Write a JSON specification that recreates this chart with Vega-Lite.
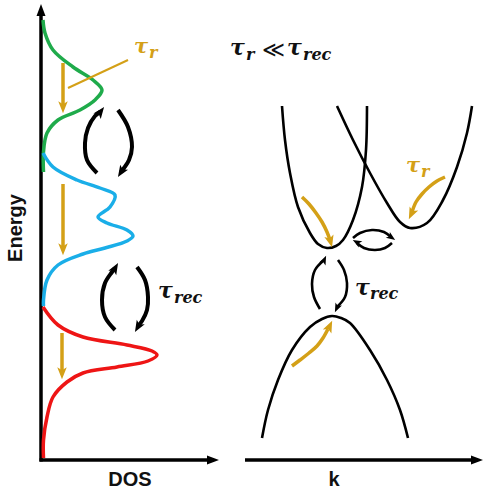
{
  "$schema": "https://vega.github.io/schema/vega-lite/v6.json",
  "width": 484,
  "height": 493,
  "padding": 0,
  "autosize": {"type": "none"},
  "background": "white",
  "config": {"view": {"stroke": null}},
  "datasets": {
    "curves": [
      {"curve": "DOS band 1", "kind": "dos", "i": 0, "x": 43, "y": 20},
      {"curve": "DOS band 1", "kind": "dos", "i": 1, "x": 45, "y": 33},
      {"curve": "DOS band 1", "kind": "dos", "i": 2, "x": 53, "y": 50},
      {"curve": "DOS band 1", "kind": "dos", "i": 3, "x": 73, "y": 67},
      {"curve": "DOS band 1", "kind": "dos", "i": 4, "x": 93, "y": 80},
      {"curve": "DOS band 1", "kind": "dos", "i": 5, "x": 102, "y": 90},
      {"curve": "DOS band 1", "kind": "dos", "i": 6, "x": 95, "y": 100},
      {"curve": "DOS band 1", "kind": "dos", "i": 7, "x": 80, "y": 110},
      {"curve": "DOS band 1", "kind": "dos", "i": 8, "x": 58, "y": 120},
      {"curve": "DOS band 1", "kind": "dos", "i": 9, "x": 47, "y": 133},
      {"curve": "DOS band 1", "kind": "dos", "i": 10, "x": 43.5, "y": 152},
      {"curve": "DOS band 1", "kind": "dos", "i": 11, "x": 43.5, "y": 172},
      {"curve": "DOS band 2", "kind": "dos", "i": 0, "x": 43, "y": 153},
      {"curve": "DOS band 2", "kind": "dos", "i": 1, "x": 53, "y": 167},
      {"curve": "DOS band 2", "kind": "dos", "i": 2, "x": 77, "y": 180},
      {"curve": "DOS band 2", "kind": "dos", "i": 3, "x": 100, "y": 188},
      {"curve": "DOS band 2", "kind": "dos", "i": 4, "x": 115, "y": 195},
      {"curve": "DOS band 2", "kind": "dos", "i": 5, "x": 110, "y": 207},
      {"curve": "DOS band 2", "kind": "dos", "i": 6, "x": 98, "y": 217},
      {"curve": "DOS band 2", "kind": "dos", "i": 7, "x": 107, "y": 223},
      {"curve": "DOS band 2", "kind": "dos", "i": 8, "x": 127, "y": 230},
      {"curve": "DOS band 2", "kind": "dos", "i": 9, "x": 133, "y": 236},
      {"curve": "DOS band 2", "kind": "dos", "i": 10, "x": 127, "y": 241},
      {"curve": "DOS band 2", "kind": "dos", "i": 11, "x": 105, "y": 248},
      {"curve": "DOS band 2", "kind": "dos", "i": 12, "x": 83, "y": 254},
      {"curve": "DOS band 2", "kind": "dos", "i": 13, "x": 58, "y": 265},
      {"curve": "DOS band 2", "kind": "dos", "i": 14, "x": 47, "y": 280},
      {"curve": "DOS band 2", "kind": "dos", "i": 15, "x": 43.5, "y": 300},
      {"curve": "DOS band 2", "kind": "dos", "i": 16, "x": 43.5, "y": 306},
      {"curve": "DOS band 3", "kind": "dos", "i": 0, "x": 43, "y": 307},
      {"curve": "DOS band 3", "kind": "dos", "i": 1, "x": 58, "y": 325},
      {"curve": "DOS band 3", "kind": "dos", "i": 2, "x": 83, "y": 337},
      {"curve": "DOS band 3", "kind": "dos", "i": 3, "x": 127, "y": 345},
      {"curve": "DOS band 3", "kind": "dos", "i": 4, "x": 152, "y": 351},
      {"curve": "DOS band 3", "kind": "dos", "i": 5, "x": 157, "y": 355},
      {"curve": "DOS band 3", "kind": "dos", "i": 6, "x": 148, "y": 361},
      {"curve": "DOS band 3", "kind": "dos", "i": 7, "x": 117, "y": 367},
      {"curve": "DOS band 3", "kind": "dos", "i": 8, "x": 83, "y": 373},
      {"curve": "DOS band 3", "kind": "dos", "i": 9, "x": 67, "y": 382},
      {"curve": "DOS band 3", "kind": "dos", "i": 10, "x": 53, "y": 397},
      {"curve": "DOS band 3", "kind": "dos", "i": 11, "x": 47, "y": 417},
      {"curve": "DOS band 3", "kind": "dos", "i": 12, "x": 43.5, "y": 440},
      {"curve": "DOS band 3", "kind": "dos", "i": 13, "x": 43.5, "y": 458},
      {"curve": "CB valley 1", "kind": "band", "i": 0, "x": 282, "y": 106},
      {"curve": "CB valley 1", "kind": "band", "i": 1, "x": 285, "y": 140},
      {"curve": "CB valley 1", "kind": "band", "i": 2, "x": 290, "y": 173},
      {"curve": "CB valley 1", "kind": "band", "i": 3, "x": 298, "y": 207},
      {"curve": "CB valley 1", "kind": "band", "i": 4, "x": 310, "y": 233},
      {"curve": "CB valley 1", "kind": "band", "i": 5, "x": 318, "y": 244},
      {"curve": "CB valley 1", "kind": "band", "i": 6, "x": 327, "y": 248},
      {"curve": "CB valley 1", "kind": "band", "i": 7, "x": 336, "y": 246},
      {"curve": "CB valley 1", "kind": "band", "i": 8, "x": 343, "y": 240},
      {"curve": "CB valley 1", "kind": "band", "i": 9, "x": 353, "y": 220},
      {"curve": "CB valley 1", "kind": "band", "i": 10, "x": 362, "y": 187},
      {"curve": "CB valley 1", "kind": "band", "i": 11, "x": 366, "y": 150},
      {"curve": "CB valley 1", "kind": "band", "i": 12, "x": 367, "y": 106},
      {"curve": "CB valley 2", "kind": "band", "i": 0, "x": 337, "y": 106},
      {"curve": "CB valley 2", "kind": "band", "i": 1, "x": 353, "y": 140},
      {"curve": "CB valley 2", "kind": "band", "i": 2, "x": 370, "y": 173},
      {"curve": "CB valley 2", "kind": "band", "i": 3, "x": 387, "y": 203},
      {"curve": "CB valley 2", "kind": "band", "i": 4, "x": 400, "y": 222},
      {"curve": "CB valley 2", "kind": "band", "i": 5, "x": 410, "y": 228},
      {"curve": "CB valley 2", "kind": "band", "i": 6, "x": 427, "y": 223},
      {"curve": "CB valley 2", "kind": "band", "i": 7, "x": 443, "y": 200},
      {"curve": "CB valley 2", "kind": "band", "i": 8, "x": 457, "y": 167},
      {"curve": "CB valley 2", "kind": "band", "i": 9, "x": 467, "y": 133},
      {"curve": "CB valley 2", "kind": "band", "i": 10, "x": 472, "y": 106},
      {"curve": "VB", "kind": "band", "i": 0, "x": 262, "y": 438},
      {"curve": "VB", "kind": "band", "i": 1, "x": 268, "y": 410},
      {"curve": "VB", "kind": "band", "i": 2, "x": 278, "y": 380},
      {"curve": "VB", "kind": "band", "i": 3, "x": 292, "y": 350},
      {"curve": "VB", "kind": "band", "i": 4, "x": 310, "y": 327},
      {"curve": "VB", "kind": "band", "i": 5, "x": 322, "y": 319},
      {"curve": "VB", "kind": "band", "i": 6, "x": 332, "y": 316},
      {"curve": "VB", "kind": "band", "i": 7, "x": 341, "y": 318},
      {"curve": "VB", "kind": "band", "i": 8, "x": 350, "y": 323},
      {"curve": "VB", "kind": "band", "i": 9, "x": 370, "y": 350},
      {"curve": "VB", "kind": "band", "i": 10, "x": 387, "y": 380},
      {"curve": "VB", "kind": "band", "i": 11, "x": 400, "y": 410},
      {"curve": "VB", "kind": "band", "i": 12, "x": 408, "y": 438},
      {"curve": "relax L1", "kind": "relax", "i": 0, "x": 63, "y": 63},
      {"curve": "relax L1", "kind": "relax", "i": 1, "x": 63, "y": 108},
      {"curve": "relax L2", "kind": "relax", "i": 0, "x": 63, "y": 184},
      {"curve": "relax L2", "kind": "relax", "i": 1, "x": 63, "y": 250},
      {"curve": "relax L3", "kind": "relax", "i": 0, "x": 62, "y": 333},
      {"curve": "relax L3", "kind": "relax", "i": 1, "x": 62, "y": 374},
      {"curve": "relax R1", "kind": "relax", "i": 0, "x": 302, "y": 197},
      {"curve": "relax R1", "kind": "relax", "i": 1, "x": 309, "y": 204},
      {"curve": "relax R1", "kind": "relax", "i": 2, "x": 316, "y": 213},
      {"curve": "relax R1", "kind": "relax", "i": 3, "x": 322, "y": 222},
      {"curve": "relax R1", "kind": "relax", "i": 4, "x": 327, "y": 232},
      {"curve": "relax R1", "kind": "relax", "i": 5, "x": 330, "y": 240},
      {"curve": "relax R2", "kind": "relax", "i": 0, "x": 445, "y": 177},
      {"curve": "relax R2", "kind": "relax", "i": 1, "x": 437, "y": 181},
      {"curve": "relax R2", "kind": "relax", "i": 2, "x": 429, "y": 187},
      {"curve": "relax R2", "kind": "relax", "i": 3, "x": 422, "y": 194},
      {"curve": "relax R2", "kind": "relax", "i": 4, "x": 416, "y": 202},
      {"curve": "relax R2", "kind": "relax", "i": 5, "x": 412, "y": 212},
      {"curve": "relax R3", "kind": "relax", "i": 0, "x": 292, "y": 366},
      {"curve": "relax R3", "kind": "relax", "i": 1, "x": 300, "y": 360},
      {"curve": "relax R3", "kind": "relax", "i": 2, "x": 309, "y": 353},
      {"curve": "relax R3", "kind": "relax", "i": 3, "x": 317, "y": 346},
      {"curve": "relax R3", "kind": "relax", "i": 4, "x": 323, "y": 338},
      {"curve": "relax R3", "kind": "relax", "i": 5, "x": 328, "y": 329},
      {"curve": "leader", "kind": "leader", "i": 0, "x": 68, "y": 88},
      {"curve": "leader", "kind": "leader", "i": 1, "x": 128, "y": 60},
      {"curve": "rec L1", "kind": "recomb", "i": 0, "x": 97, "y": 173},
      {"curve": "rec L1", "kind": "recomb", "i": 1, "x": 87, "y": 160},
      {"curve": "rec L1", "kind": "recomb", "i": 2, "x": 85, "y": 143},
      {"curve": "rec L1", "kind": "recomb", "i": 3, "x": 88, "y": 128},
      {"curve": "rec L1", "kind": "recomb", "i": 4, "x": 95, "y": 116},
      {"curve": "rec L1", "kind": "recomb", "i": 5, "x": 100, "y": 112},
      {"curve": "rec L2", "kind": "recomb", "i": 0, "x": 118, "y": 110},
      {"curve": "rec L2", "kind": "recomb", "i": 1, "x": 128, "y": 127},
      {"curve": "rec L2", "kind": "recomb", "i": 2, "x": 132, "y": 147},
      {"curve": "rec L2", "kind": "recomb", "i": 3, "x": 129, "y": 160},
      {"curve": "rec L2", "kind": "recomb", "i": 4, "x": 124, "y": 168},
      {"curve": "rec L2", "kind": "recomb", "i": 5, "x": 121, "y": 172},
      {"curve": "rec L3", "kind": "recomb", "i": 0, "x": 115, "y": 330},
      {"curve": "rec L3", "kind": "recomb", "i": 1, "x": 105, "y": 317},
      {"curve": "rec L3", "kind": "recomb", "i": 2, "x": 102, "y": 300},
      {"curve": "rec L3", "kind": "recomb", "i": 3, "x": 105, "y": 283},
      {"curve": "rec L3", "kind": "recomb", "i": 4, "x": 112, "y": 272},
      {"curve": "rec L3", "kind": "recomb", "i": 5, "x": 115, "y": 268},
      {"curve": "rec L4", "kind": "recomb", "i": 0, "x": 137, "y": 267},
      {"curve": "rec L4", "kind": "recomb", "i": 1, "x": 145, "y": 280},
      {"curve": "rec L4", "kind": "recomb", "i": 2, "x": 148, "y": 297},
      {"curve": "rec L4", "kind": "recomb", "i": 3, "x": 147, "y": 310},
      {"curve": "rec L4", "kind": "recomb", "i": 4, "x": 142, "y": 321},
      {"curve": "rec L4", "kind": "recomb", "i": 5, "x": 138, "y": 326},
      {"curve": "rec R1", "kind": "recomb-small", "i": 0, "x": 353, "y": 238},
      {"curve": "rec R1", "kind": "recomb-small", "i": 1, "x": 360, "y": 233},
      {"curve": "rec R1", "kind": "recomb-small", "i": 2, "x": 372, "y": 230},
      {"curve": "rec R1", "kind": "recomb-small", "i": 3, "x": 384, "y": 232},
      {"curve": "rec R1", "kind": "recomb-small", "i": 4, "x": 391, "y": 237},
      {"curve": "rec R2", "kind": "recomb-small", "i": 0, "x": 392, "y": 243},
      {"curve": "rec R2", "kind": "recomb-small", "i": 1, "x": 385, "y": 248},
      {"curve": "rec R2", "kind": "recomb-small", "i": 2, "x": 375, "y": 250},
      {"curve": "rec R2", "kind": "recomb-small", "i": 3, "x": 364, "y": 248},
      {"curve": "rec R2", "kind": "recomb-small", "i": 4, "x": 357, "y": 243},
      {"curve": "rec R3", "kind": "recomb-small", "i": 0, "x": 320, "y": 309},
      {"curve": "rec R3", "kind": "recomb-small", "i": 1, "x": 314, "y": 297},
      {"curve": "rec R3", "kind": "recomb-small", "i": 2, "x": 312, "y": 284},
      {"curve": "rec R3", "kind": "recomb-small", "i": 3, "x": 315, "y": 270},
      {"curve": "rec R3", "kind": "recomb-small", "i": 4, "x": 323, "y": 261},
      {"curve": "rec R4", "kind": "recomb-small", "i": 0, "x": 338, "y": 260},
      {"curve": "rec R4", "kind": "recomb-small", "i": 1, "x": 344, "y": 270},
      {"curve": "rec R4", "kind": "recomb-small", "i": 2, "x": 347, "y": 283},
      {"curve": "rec R4", "kind": "recomb-small", "i": 3, "x": 345, "y": 297},
      {"curve": "rec R4", "kind": "recomb-small", "i": 4, "x": 337, "y": 307}
    ],
    "axes": [
      {"axis": "Energy", "x": 41, "y": 461.5, "x2": 41, "y2": 11},
      {"axis": "DOS", "x": 39.5, "y": 460, "x2": 214, "y2": 460},
      {"axis": "k", "x": 245, "y": 460, "x2": 478, "y2": 460}
    ],
    "heads": [
      {"kind": "axis", "x": 41, "y": 10, "angle": 0},
      {"kind": "axis", "x": 213, "y": 460, "angle": 90},
      {"kind": "axis", "x": 477, "y": 460, "angle": 90},
      {"kind": "relax", "x": 63, "y": 107, "angle": 180},
      {"kind": "relax", "x": 63, "y": 249, "angle": 180},
      {"kind": "relax", "x": 62, "y": 373, "angle": 180},
      {"kind": "relax", "x": 330.4, "y": 241.2, "angle": 165},
      {"kind": "relax", "x": 411.5, "y": 213.6, "angle": 205},
      {"kind": "relax", "x": 329.5, "y": 326.4, "angle": 25},
      {"kind": "recomb", "x": 100.4, "y": 111.8, "angle": 37},
      {"kind": "recomb", "x": 121.2, "y": 171.9, "angle": 212},
      {"kind": "recomb", "x": 115, "y": 268.2, "angle": 30},
      {"kind": "recomb", "x": 138, "y": 326.8, "angle": 210},
      {"kind": "recomb-small", "x": 391.3, "y": 237.4, "angle": 125},
      {"kind": "recomb-small", "x": 356.9, "y": 242.3, "angle": 300},
      {"kind": "recomb-small", "x": 324.1, "y": 260.1, "angle": 25},
      {"kind": "recomb-small", "x": 336.9, "y": 307.9, "angle": 205}
    ],
    "labels": [
      {"label": "τ", "role": "tau", "process": "relaxation", "x": 134, "y": 53},
      {"label": "r", "role": "sub", "process": "relaxation", "x": 149, "y": 58},
      {"label": "τ", "role": "tau", "process": "relaxation", "x": 406, "y": 172},
      {"label": "r", "role": "sub", "process": "relaxation", "x": 421, "y": 177},
      {"label": "τ", "role": "tau", "process": "recombination", "x": 158, "y": 298},
      {"label": "rec", "role": "sub", "process": "recombination", "x": 174, "y": 303},
      {"label": "τ", "role": "tau", "process": "recombination", "x": 355, "y": 295},
      {"label": "rec", "role": "sub", "process": "recombination", "x": 370, "y": 299},
      {"label": "τ", "role": "tau", "process": "comparison", "x": 230, "y": 55},
      {"label": "r", "role": "sub", "process": "comparison", "x": 246, "y": 60},
      {"label": "≪", "role": "rel", "process": "comparison", "x": 262, "y": 57},
      {"label": "τ", "role": "tau", "process": "comparison", "x": 287, "y": 55},
      {"label": "rec", "role": "sub", "process": "comparison", "x": 303, "y": 60}
    ],
    "axisTitles": [
      {"label": "DOS", "x": 130, "y": 480},
      {"label": "k", "x": 334, "y": 480}
    ],
    "energyTitle": [
      {"label": "Energy", "x": 16, "y": 228}
    ]
  },
  "encoding": {
    "x": {"field": "x", "type": "quantitative", "axis": null, "scale": {"domain": [0, 484], "nice": false, "zero": false}},
    "y": {"field": "y", "type": "quantitative", "axis": null, "scale": {"domain": [0, 493], "reverse": true, "nice": false, "zero": false}}
  },
  "layer": [
    {
      "data": {"name": "axes"},
      "mark": {"type": "rule", "color": "black", "strokeWidth": 3.5},
      "encoding": {"x2": {"field": "x2"}, "y2": {"field": "y2"}}
    },
    {
      "data": {"name": "curves"},
      "transform": [{"filter": "datum.kind == 'band'"}],
      "mark": {"type": "line", "color": "black", "strokeWidth": 2.6, "interpolate": "catmull-rom"},
      "encoding": {"detail": {"field": "curve"}, "order": {"field": "i", "type": "quantitative"}}
    },
    {
      "data": {"name": "curves"},
      "transform": [{"filter": "datum.kind == 'dos'"}],
      "mark": {"type": "line", "strokeWidth": 3.5, "interpolate": "catmull-rom"},
      "encoding": {
        "color": {"field": "curve", "type": "nominal", "legend": null,
          "scale": {"domain": ["DOS band 1", "DOS band 2", "DOS band 3"], "range": ["#1fab4b", "#1aaee8", "#ee1515"]}},
        "order": {"field": "i", "type": "quantitative"}
      }
    },
    {
      "data": {"name": "curves"},
      "transform": [{"filter": "datum.kind == 'relax'"}],
      "mark": {"type": "line", "color": "#d4a017", "strokeWidth": 3.5, "interpolate": "catmull-rom"},
      "encoding": {"detail": {"field": "curve"}, "order": {"field": "i", "type": "quantitative"}}
    },
    {
      "data": {"name": "curves"},
      "transform": [{"filter": "datum.kind == 'leader'"}],
      "mark": {"type": "line", "color": "#d4a017", "strokeWidth": 2},
      "encoding": {"detail": {"field": "curve"}, "order": {"field": "i", "type": "quantitative"}}
    },
    {
      "data": {"name": "curves"},
      "transform": [{"filter": "datum.kind == 'recomb'"}],
      "mark": {"type": "line", "color": "black", "strokeWidth": 4, "interpolate": "catmull-rom"},
      "encoding": {"detail": {"field": "curve"}, "order": {"field": "i", "type": "quantitative"}}
    },
    {
      "data": {"name": "curves"},
      "transform": [{"filter": "datum.kind == 'recomb-small'"}],
      "mark": {"type": "line", "color": "black", "strokeWidth": 2.6, "interpolate": "catmull-rom"},
      "encoding": {"detail": {"field": "curve"}, "order": {"field": "i", "type": "quantitative"}}
    },
    {
      "data": {"name": "heads"},
      "transform": [{"filter": "datum.kind == 'axis'"}],
      "mark": {"type": "point", "filled": true, "opacity": 1, "color": "black", "size": 144, "shape": "M0,-1L0.75,1L-0.75,1Z"},
      "encoding": {"angle": {"field": "angle", "type": "quantitative", "scale": null}}
    },
    {
      "data": {"name": "heads"},
      "transform": [{"filter": "datum.kind == 'relax'"}],
      "mark": {"type": "point", "filled": true, "opacity": 1, "color": "#d4a017", "size": 160, "shape": "M0,-1L0.75,0.9L0,0.45L-0.75,0.9Z"},
      "encoding": {"angle": {"field": "angle", "type": "quantitative", "scale": null}}
    },
    {
      "data": {"name": "heads"},
      "transform": [{"filter": "datum.kind == 'recomb'"}],
      "mark": {"type": "point", "filled": true, "opacity": 1, "color": "black", "size": 150, "shape": "M0,-1L0.75,0.9L0,0.45L-0.75,0.9Z"},
      "encoding": {"angle": {"field": "angle", "type": "quantitative", "scale": null}}
    },
    {
      "data": {"name": "heads"},
      "transform": [{"filter": "datum.kind == 'recomb-small'"}],
      "mark": {"type": "point", "filled": true, "opacity": 1, "color": "black", "size": 90, "shape": "M0,-1L0.75,0.9L0,0.45L-0.75,0.9Z"},
      "encoding": {"angle": {"field": "angle", "type": "quantitative", "scale": null}}
    },
    {
      "data": {"name": "labels"},
      "transform": [{"filter": "datum.role == 'tau' && datum.process == 'relaxation'"}],
      "mark": {"type": "text", "align": "left", "baseline": "alphabetic", "font": "DejaVu Serif", "fontStyle": "italic", "fontWeight": "bold", "fontSize": 21, "color": "#d4a017"},
      "encoding": {"text": {"field": "label"}}
    },
    {
      "data": {"name": "labels"},
      "transform": [{"filter": "datum.role == 'sub' && datum.process == 'relaxation'"}],
      "mark": {"type": "text", "align": "left", "baseline": "alphabetic", "font": "DejaVu Serif", "fontStyle": "italic", "fontWeight": "bold", "fontSize": 16, "color": "#d4a017"},
      "encoding": {"text": {"field": "label"}}
    },
    {
      "data": {"name": "labels"},
      "transform": [{"filter": "datum.role == 'tau' && datum.process != 'relaxation'"}],
      "mark": {"type": "text", "align": "left", "baseline": "alphabetic", "font": "DejaVu Serif", "fontStyle": "italic", "fontWeight": "bold", "fontSize": 22, "color": "#111111"},
      "encoding": {"text": {"field": "label"}}
    },
    {
      "data": {"name": "labels"},
      "transform": [{"filter": "datum.role == 'sub' && datum.process != 'relaxation'"}],
      "mark": {"type": "text", "align": "left", "baseline": "alphabetic", "font": "DejaVu Serif", "fontStyle": "italic", "fontWeight": "bold", "fontSize": 16, "color": "#111111"},
      "encoding": {"text": {"field": "label"}}
    },
    {
      "data": {"name": "labels"},
      "transform": [{"filter": "datum.role == 'rel'"}],
      "mark": {"type": "text", "align": "left", "baseline": "alphabetic", "font": "DejaVu Sans", "fontSize": 22, "color": "#111111"},
      "encoding": {"text": {"field": "label"}}
    },
    {
      "data": {"name": "axisTitles"},
      "mark": {"type": "text", "align": "center", "baseline": "middle", "font": "Liberation Sans", "fontWeight": "bold", "fontSize": 20, "color": "#111111"},
      "encoding": {"text": {"field": "label"}}
    },
    {
      "data": {"name": "energyTitle"},
      "mark": {"type": "text", "align": "center", "baseline": "middle", "angle": 270, "font": "Liberation Sans", "fontWeight": "bold", "fontSize": 20, "color": "#111111"},
      "encoding": {"text": {"field": "label"}}
    }
  ]
}
